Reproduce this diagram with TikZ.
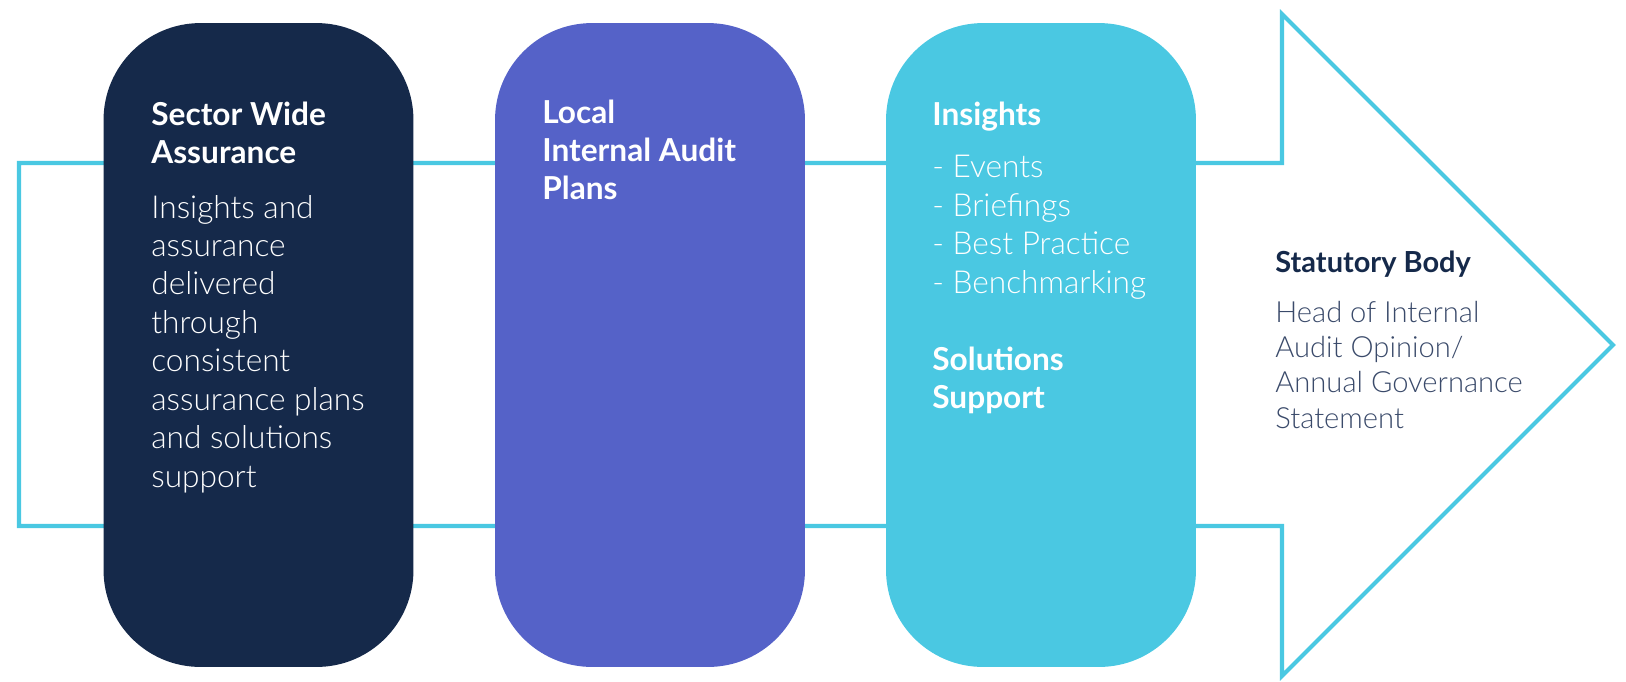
\documentclass[tikz,border=0pt]{standalone}
\usepackage{fontspec}
\setmainfont{Lato}
\IfFontExistsTF{Lato Light}{\newfontfamily\lightfont{Lato Light}}{\newfontfamily\lightfont{Lato}}
\usetikzlibrary{positioning}
\definecolor{cnavy}{RGB}{21,41,74}
\definecolor{cviolet}{RGB}{85,98,200}
\definecolor{ccyan}{RGB}{74,200,226}
\definecolor{cslate}{RGB}{58,74,106}
\tikzset{
  pill/.style={rectangle,rounded corners=1.94cm,draw=none,
    minimum width=6.2cm,minimum height=12.88cm,inner sep=0pt},
  % text nodes are placed by the baseline of their last line
  head/.style={anchor=base west,align=left,inner sep=0pt,text=white,
    font=\fontsize{18}{21.6}\selectfont\bfseries},
  body/.style={anchor=base west,align=left,inner sep=0pt,text=white,
    font=\lightfont\fontsize{18}{21.87}\selectfont},
  % the statutory body sits in the arrow head, smaller and dark
  sbhead/.style={head,text=cnavy,font=\fontsize{16.5}{20.1}\selectfont\bfseries},
  sbbody/.style={body,text=cslate,font=\lightfont\fontsize{16.6}{20.1}\selectfont},
  outline/.style={draw=ccyan,line width=2.3pt,line join=miter}
}

\begin{document}
\begin{tikzpicture}[x=0.02cm,y=-0.02cm]
  \useasboundingbox (0,0) rectangle (1626,681);
  % open arrow behind the three stages
  \draw[outline] (19,163) -- (1282,163) -- (1282,14) -- (1613,345)
    -- (1282,676) -- (1282,526) -- (19,526) -- cycle;

  \node[pill,fill=cnavy] (sector) at (258.5,345) {};
  \node[pill,fill=cviolet] (local) at (650,345) {};
  \node[pill,fill=ccyan] (insights) at (1041,345) {};

  \node[head] (sectorhead) at (151,163) {Sector Wide\\Assurance};
  \node[body] (sectorbody) at (151,487) {Insights and\\assurance\\delivered\\through\\consistent\\assurance plans\\and solutions\\support};

  \node[head] (localhead) at (542,199) {Local\\Internal Audit\\Plans};

  \node[head] (insightshead) at (932,125) {Insights};
  \node[body] (insightsbody) at (932,293) {- Events\\- Briefings\\- Best Practice\\- Benchmarking};
  \node[head] (solutionshead) at (932,408) {Solutions\\Support};

  \node[sbhead] (stathead) at (1275,272) {Statutory Body};
  \node[sbbody] (statbody) at (1275,428) {Head of Internal\\Audit Opinion/\\Annual Governance\\Statement};
\end{tikzpicture}
\end{document}
